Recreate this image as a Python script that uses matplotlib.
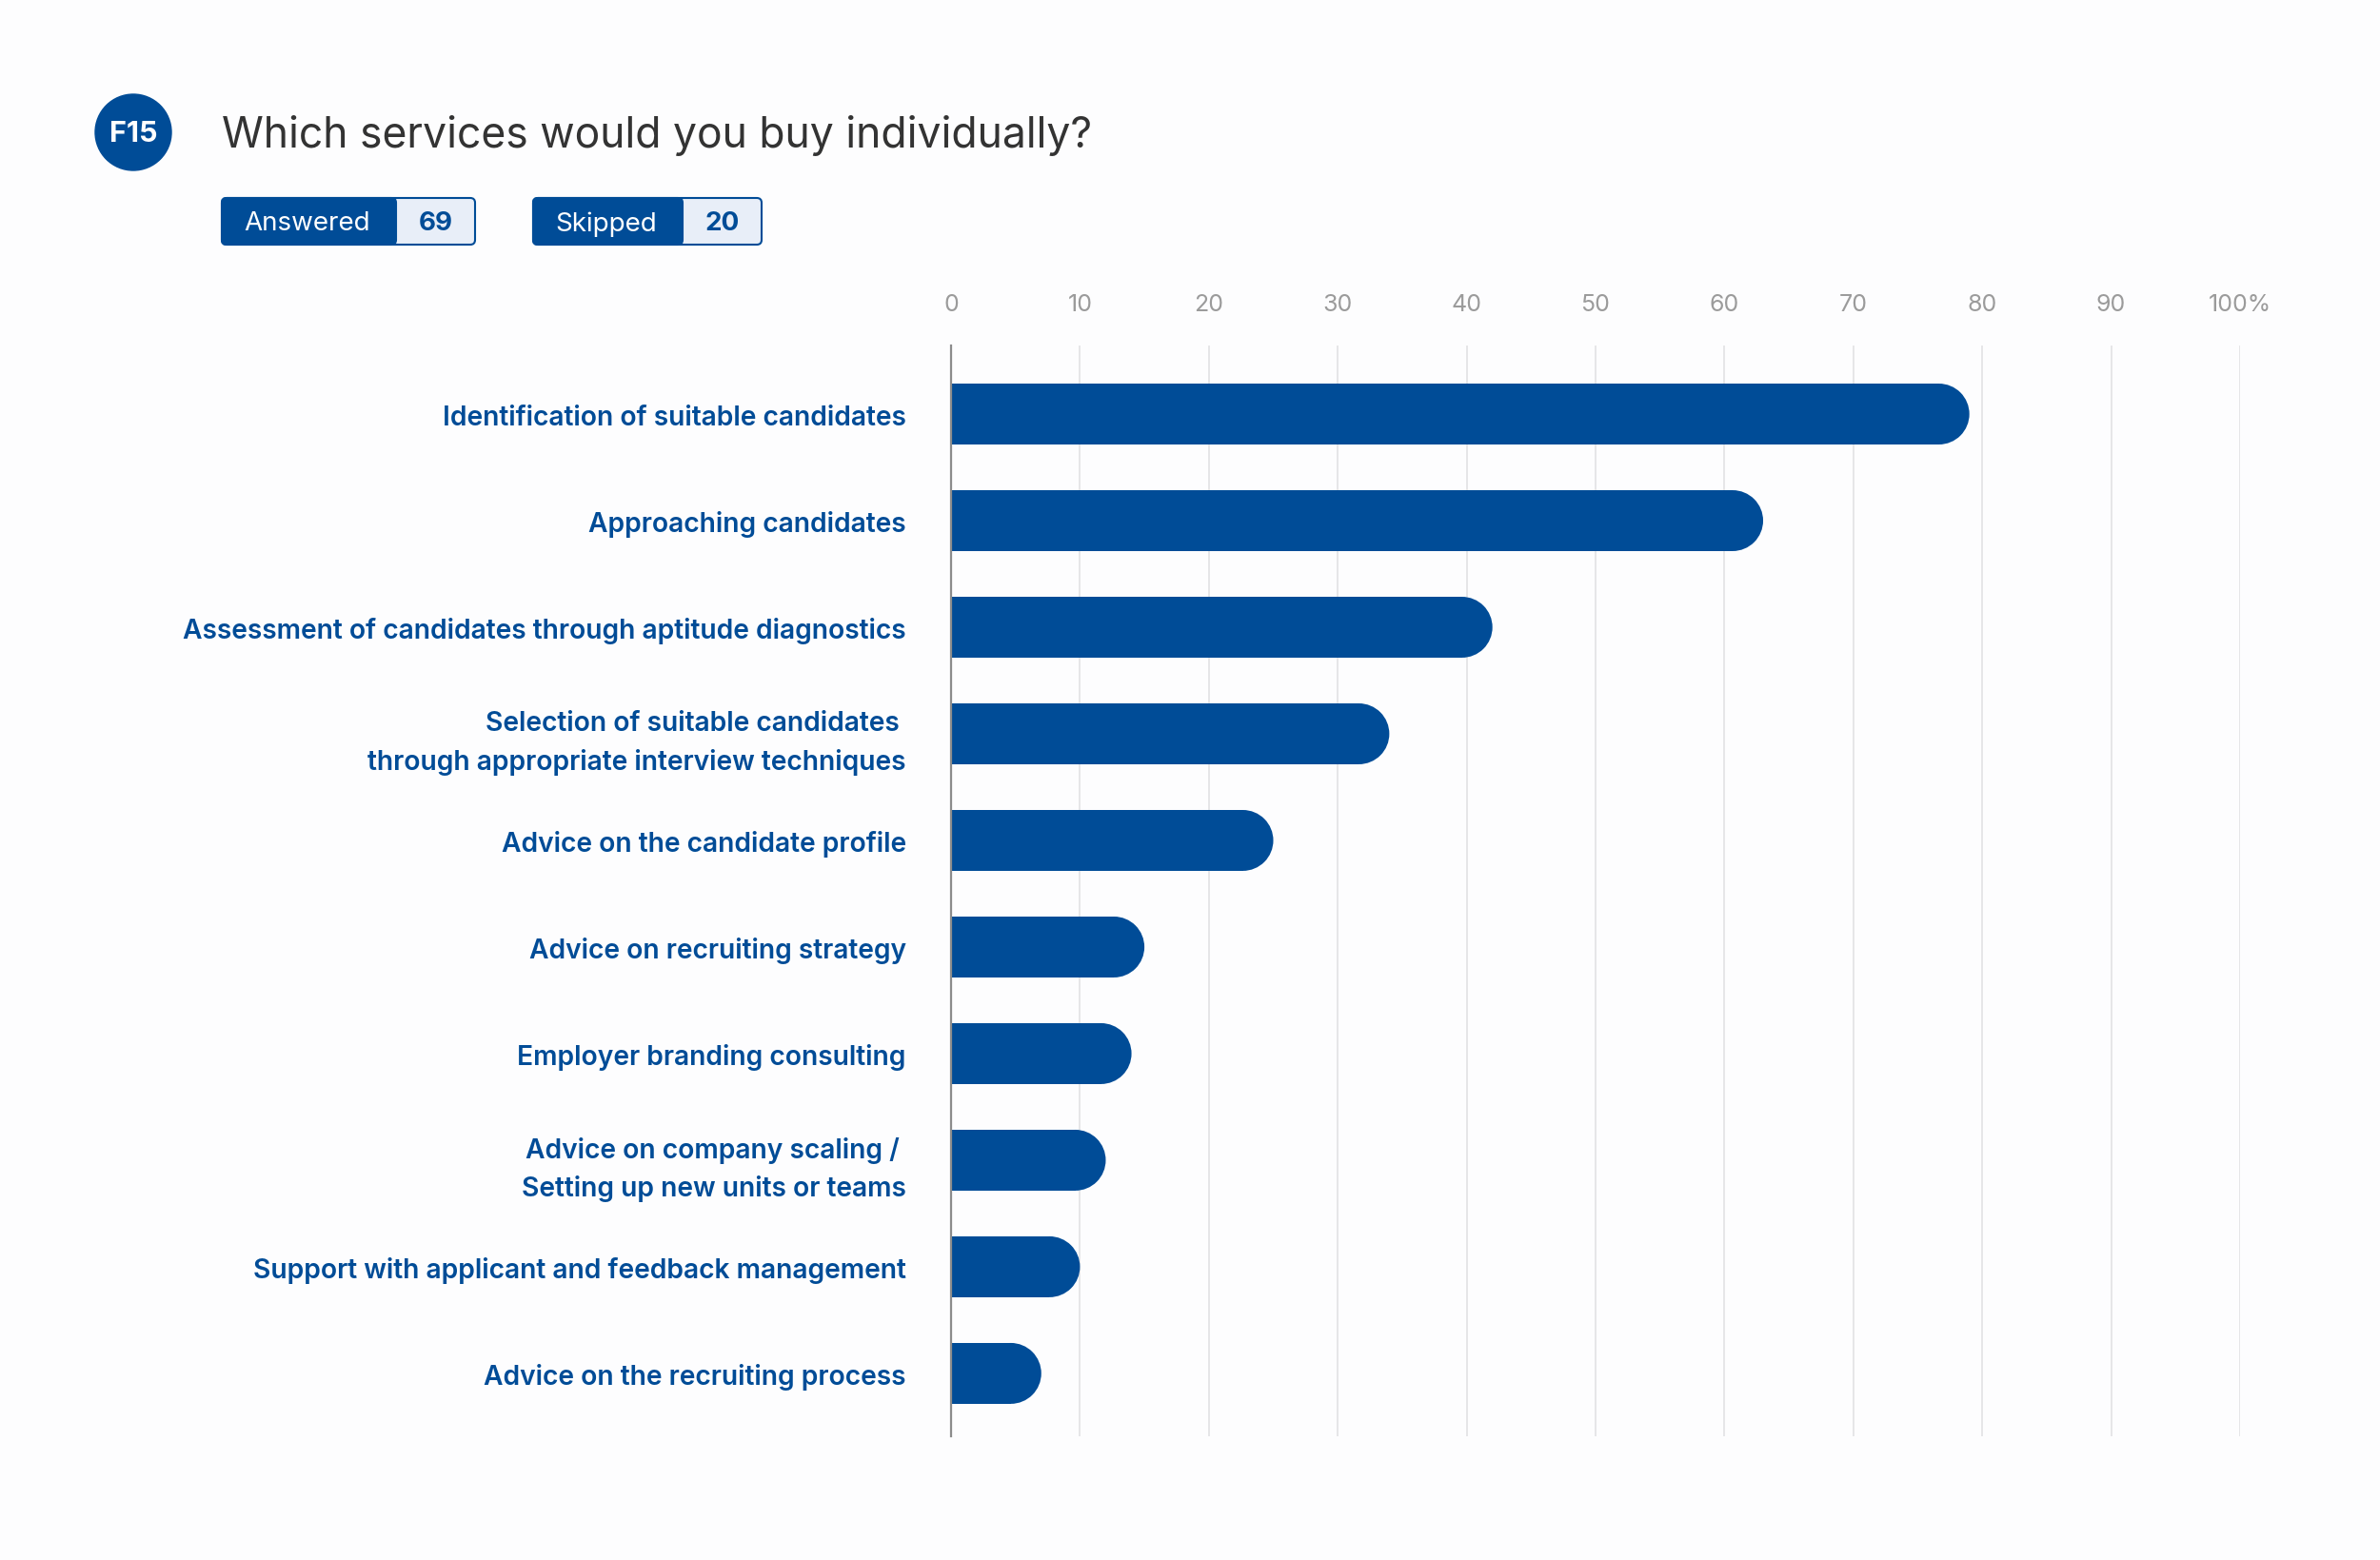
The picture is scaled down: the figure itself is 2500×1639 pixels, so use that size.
import matplotlib
matplotlib.use('Agg')
import matplotlib.pyplot as plt
from matplotlib.patches import Ellipse, Circle, FancyBboxPatch, Rectangle

# Data (percent of respondents)
categories = [
    "Identification of suitable candidates",
    "Approaching candidates",
    "Assessment of candidates through aptitude diagnostics",
    "Selection of suitable candidates \nthrough appropriate interview techniques",
    "Advice on the candidate profile",
    "Advice on recruiting strategy",
    "Employer branding consulting",
    "Advice on company scaling / \nSetting up new units or teams",
    "Support with applicant and feedback management",
    "Advice on the recruiting process",
]
values = [79, 63, 42, 34, 25, 15, 14, 12, 10, 7]
tick_values = [0, 10, 20, 30, 40, 50, 60, 70, 80, 90, 100]
tick_labels = ["0", "10", "20", "30", "40", "50", "60", "70", "80", "90", "100%"]
answered = 69
skipped = 20

BLUE = '#004c97'
LIGHT = '#e8eef8'
BG = '#fdfdfe'

plt.rcParams['font.family'] = ['Inter', 'DejaVu Sans']

W, H, DPI = 25, 16.4, 100
fig = plt.figure(figsize=(W, H), dpi=DPI, facecolor=BG)

# Main bar axes
ax_px_w = 1354
ax_px_h = 1146
ax = fig.add_axes([999 / 2500, 1 - 1510 / 1640, ax_px_w / 2500, ax_px_h / 1640])
ax.set_facecolor(BG)
ax.set_xlim(0, 100)
ax.set_ylim(9.59, -0.643)

bar_h = 0.571
# radius of the round cap in x data units
y_units_px = ax_px_h / (9.59 + 0.643)
cap_r = (bar_h * y_units_px / 2) / (ax_px_w / 100)

ys = list(range(len(categories)))
straight = [v - cap_r for v in values]
ax.barh(ys, straight, height=bar_h, color=BLUE, zorder=3)
for y, s in zip(ys, straight):
    ax.add_patch(Ellipse((s, y), 2 * cap_r, bar_h, color=BLUE, zorder=3, linewidth=0))

ax.set_xticks(tick_values)
ax.set_xticklabels(tick_labels)
ax.xaxis.tick_top()
ax.tick_params(axis='x', length=0, pad=23, labelsize=18, labelcolor='#9b9b9b')
ax.set_yticks(ys)
ax.set_yticklabels(categories)
ax.tick_params(axis='y', length=0, pad=34, labelsize=20.3, labelcolor=BLUE)
for lbl in ax.get_yticklabels():
    lbl.set_fontweight('semibold')
    lbl.set_linespacing(1.55)

for x in tick_values[1:]:
    ax.axvline(x, color='#e6e6e8', linewidth=1.4, zorder=1)
for s in ['top', 'right', 'bottom']:
    ax.spines[s].set_visible(False)
ax.spines['left'].set_color('#8c8c8c')
ax.spines['left'].set_linewidth(1.6)
ax.spines['left'].set_zorder(4)

# Header overlay in pixel coordinates
hx = fig.add_axes([0, 0, 1, 1])
hx.set_xlim(0, 2500)
hx.set_ylim(1640, 0)
hx.axis('off')
hx.patch.set_alpha(0)

hx.add_patch(Circle((140, 140), 40, color=BLUE))
hx.text(140, 141, "F15", color='white', fontsize=22, fontweight='bold',
        ha='center', va='center')
hx.text(233, 142, "Which services would you buy individually?", color='#333333',
        fontsize=32, ha='left', va='center')


def badge(x0, split, x1, label, num):
    y0, y1 = 209, 258
    hx.add_patch(FancyBboxPatch((x0, y0), x1 - x0, y1 - y0,
                                boxstyle='round,pad=0,rounding_size=5',
                                facecolor=LIGHT, edgecolor=BLUE, linewidth=1.5))
    hx.add_patch(FancyBboxPatch((x0, y0), split - x0, y1 - y0,
                                boxstyle='round,pad=0,rounding_size=5',
                                facecolor=BLUE, edgecolor=BLUE, linewidth=1.5))
    hx.add_patch(Rectangle((split - 8, y0), 8, y1 - y0, facecolor=BLUE, edgecolor='none'))
    yc = (y0 + y1) / 2
    hx.text((x0 + split) / 2 - 2, yc + 2, label, color='white', fontsize=20,
            ha='center', va='center')
    hx.text((split + x1) / 2, yc + 2, str(num), color=BLUE, fontsize=20,
            fontweight='bold', ha='center', va='center')


badge(233, 416, 499, "Answered", answered)
badge(560, 717, 800, "Skipped", skipped)

fig.savefig('out.png', dpi=DPI, facecolor=BG)
